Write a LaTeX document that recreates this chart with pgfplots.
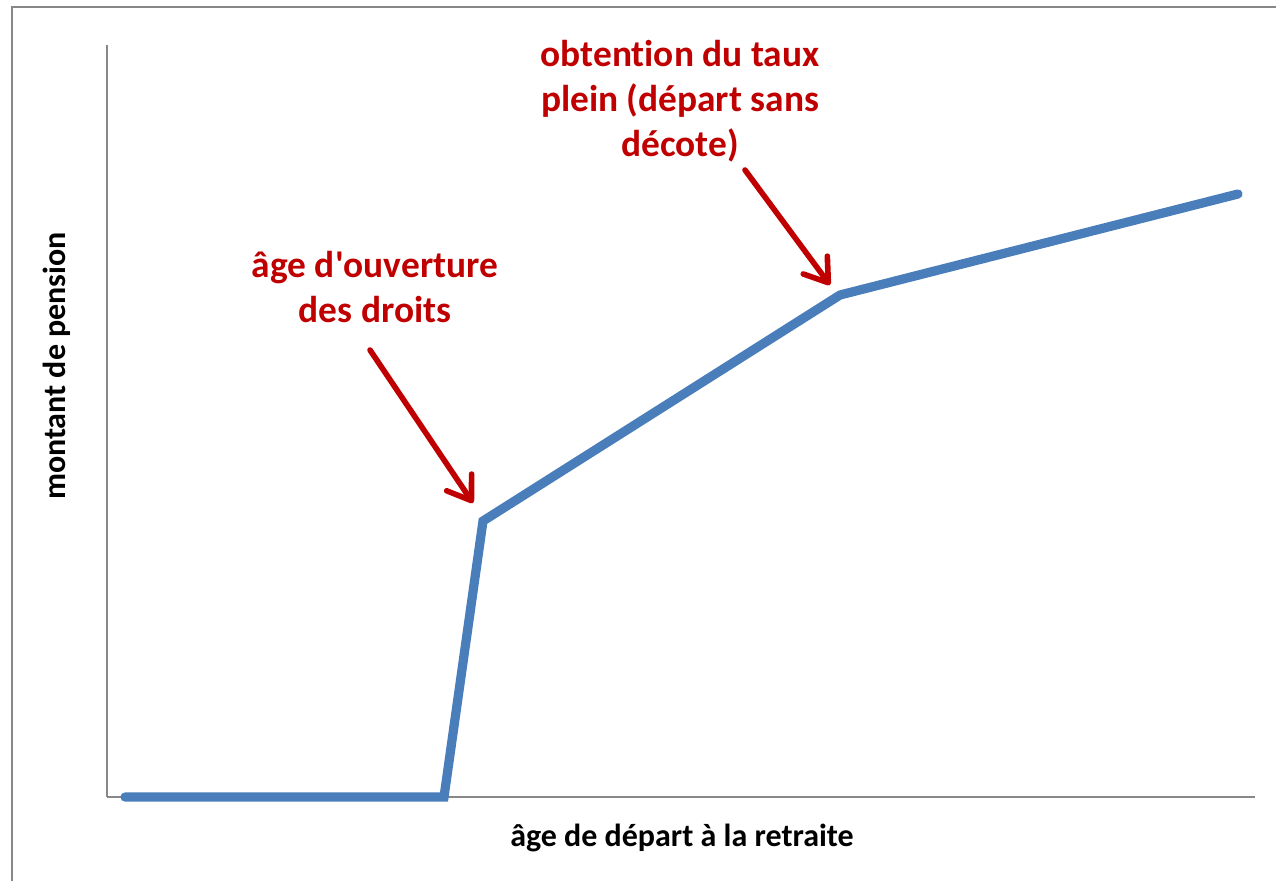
\documentclass[border=0pt]{standalone}
\usepackage{pgfplots}
\pgfplotsset{compat=1.18}
\usepackage{fontspec}
\setmainfont{Carlito}[Ligatures={NoCommon}]
\usetikzlibrary{arrows.meta}
\definecolor{lineblue}{HTML}{4A7EBB}
\definecolor{annred}{HTML}{C00000}
\definecolor{axgray}{HTML}{878787}
\begin{document}
\begin{tikzpicture}
\useasboundingbox (0,0) rectangle (638pt,440pt);
\draw[axgray, line width=1.1pt] (6pt,-20pt) -- (6pt,436.5pt) -- (660pt,436.5pt);
\begin{axis}[
  at={(53.5pt,41.5pt)}, anchor=south west,
  scale only axis, width=574pt, height=376pt,
  xmin=0, xmax=1148, ymin=0, ymax=752,
  axis x line*=bottom, axis y line*=left,
  axis line style={-, axgray, line width=1pt},
  ticks=none, clip=false,
]
\addplot[lineblue, line width=4.6pt, line cap=round, line join=miter] coordinates {
  (18,0) (337,0) (376,276) (733,502) (1131,603)
};
\draw[annred, line width=2.8pt, line cap=round, -{Straight Barb[round, length=11pt, width=15pt]}] (axis cs:263,447) -- (axis cs:366,294);
\draw[annred, line width=2.8pt, line cap=round, -{Straight Barb[round, length=11pt, width=15pt]}] (axis cs:638,627) -- (axis cs:723,512);
\node[annred, align=center, font=\fontsize{18.7}{22.6}\selectfont\bfseries] at (axis cs:268,510) {âge d\textquotesingle ouverture\\des droits};
\node[annred, align=center, font=\fontsize{18.7}{22.6}\selectfont\bfseries] at (axis cs:573,696) {obtention du taux\\plein (départ sans\\décote)};
\node[black, font=\fontsize{16}{19}\selectfont\bfseries] at (axis cs:575,-41) {âge de départ à la retraite};
\node[black, rotate=90, font=\fontsize{16}{19}\selectfont\bfseries] at (axis cs:-50,431) {montant de pension};
\end{axis}
\end{tikzpicture}
\end{document}
